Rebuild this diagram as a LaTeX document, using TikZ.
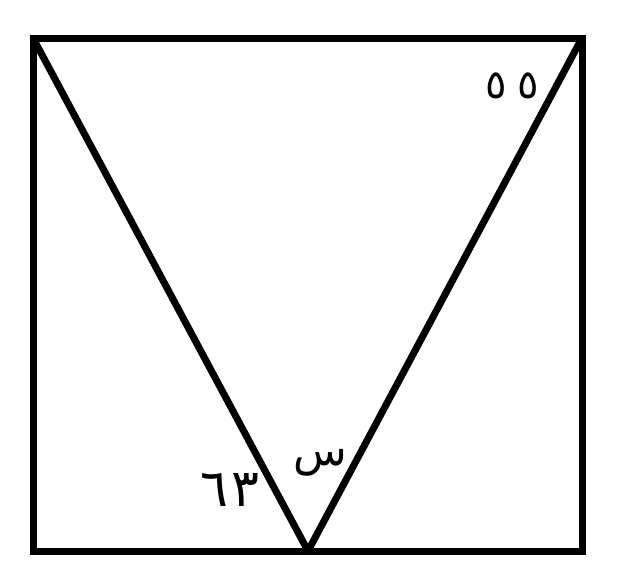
\documentclass[tikz,border=0pt]{standalone}
\usepackage{fontspec}
\newfontfamily\arabicfont[Script=Arabic]{DejaVu Sans}
\usetikzlibrary{positioning}

\begin{document}
\begin{tikzpicture}[
    x=1pt, y=-1pt,
    every node/.style={font=\arabicfont\fontsize{40}{48}\selectfont, inner sep=0pt},
    edge/.style={line width=7pt, line join=miter},
]
    \useasboundingbox (0,0) rectangle (621,581);
    \coordinate (tl) at (33,38);
    \coordinate (tr) at (582,38);
    \coordinate (br) at (582,551);
    \coordinate (bl) at (33,551);
    \coordinate (apex) at (308,551);

    \draw [edge] (tl) -- (tr) -- (br) -- (bl) -- cycle;
    \draw [edge, line join=bevel] (tl) -- (apex) -- (tr);

    \node (ang55) at (512,86) {٥\hspace{10pt}٥};
    \node (angx) at (320,463) [font=\arabicfont\fontsize{44}{52}\selectfont] {س};
    \node (ang63) at (230,490) [font=\arabicfont\fontsize{52}{60}\selectfont] {٦\hspace{4pt}٣};
\end{tikzpicture}
\end{document}
